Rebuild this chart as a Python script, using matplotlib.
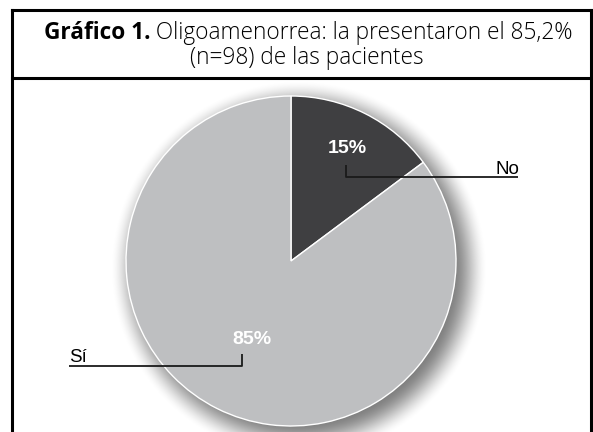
import matplotlib
matplotlib.use('Agg')
import matplotlib.pyplot as plt
import numpy as np

W, H = 593, 432

# data
labels = ['No', 'Sí']
values = [14.8, 85.2]
pct_text = ['15%', '85%']
colors = ['#3f3f41', '#bebfc1']

title_bold = 'Gráfico 1.'
title_rest = ' Oligoamenorrea: la presentaron el 85,2%'
title_line2 = '(n=98) de las pacientes'

fig = plt.figure(figsize=(W / 100, H / 100), dpi=100)
ax = fig.add_axes([0, 0, 1, 1])
ax.set_xlim(0, W)
ax.set_ylim(0, H)
ax.set_aspect('equal')
ax.axis('off')


def Y(y):
    # image row -> data y
    return H - y


cx, cy, r = 291, 261, 165

# soft drop shadow (lower right)
xx, yy = np.meshgrid(np.arange(W) + 0.5, np.arange(H) + 0.5)
d = np.hypot(xx - (cx + 8), yy - (cy + 8)) - r
t = np.clip((d + 12) / 36, 0, 1)
a = 0.5 * (1 - t * t * (3 - 2 * t))
shadow = np.zeros((H, W, 4))
shadow[..., 3] = a
ax.imshow(shadow, extent=(0, W, 0, H), origin='upper', zorder=1, interpolation='bilinear')

wedges, _ = ax.pie(values, colors=colors, startangle=90, counterclock=False,
                   center=(cx, Y(cy)), radius=r, frame=True,
                   wedgeprops=dict(edgecolor='white', linewidth=1.0))
for w in wedges:
    w.set_zorder(2)
ax.set_xlim(0, W)
ax.set_ylim(0, H)
ax.axis('off')

# percentage labels
fracs = [0.76, 0.53]
for w, txt, fr in zip(wedges, pct_text, fracs):
    ang = np.deg2rad((w.theta1 + w.theta2) / 2)
    px = cx + fr * r * np.cos(ang)
    py = Y(cy) + fr * r * np.sin(ang)
    ax.text(px, py, txt, color='white', fontsize=14, fontweight='bold',
            family='Liberation Sans', ha='center', va='center', zorder=4)

# leader lines
lk = dict(color='#1a1a1a', lw=1.3, zorder=4, solid_capstyle='butt')
ax.plot([346, 346, 518], [Y(165), Y(177), Y(177)], **lk)
ax.plot([242, 242, 69], [Y(354), Y(366), Y(366)], **lk)
ax.text(519, Y(174), labels[0], fontsize=13.5, family='Liberation Sans',
        ha='right', va='baseline', zorder=4)
ax.text(69, Y(362), labels[1], fontsize=13.5, family='Liberation Sans',
        ha='left', va='baseline', zorder=4)

# frame
bk = dict(color='black', lw=2.2, zorder=5, solid_capstyle='projecting')
ax.plot([11.5, 11.5], [Y(10), -5], **bk)
ax.plot([591, 591], [Y(10), -5], **bk)
ax.plot([11.5, 591], [Y(10), Y(10)], **bk)
ax.plot([11.5, 591], [Y(78), Y(78)], **bk)

# title, sized to fill the header box width
tfont = 'Open Sans'
fs = 14
t1 = ax.text(0, 0, title_bold, fontsize=fs, fontweight='bold', family=tfont, va='baseline')
t2 = ax.text(0, 0, title_rest, fontsize=fs, fontweight='light', family=tfont, va='baseline')
t3 = ax.text(0, 0, title_line2, fontsize=fs, fontweight='light', family=tfont,
             ha='center', va='baseline')
fig.canvas.draw()
rend = fig.canvas.get_renderer()
wt = t1.get_window_extent(rend).width + t2.get_window_extent(rend).width
fs = fs * 530 / wt
for tt in (t1, t2, t3):
    tt.set_fontsize(fs)
fig.canvas.draw()
w1 = t1.get_window_extent(rend).width
w2 = t2.get_window_extent(rend).width
x0 = 308 - (w1 + w2) / 2
t1.set_position((x0, Y(39)))
t2.set_position((x0 + w1, Y(39)))
t3.set_position((307, Y(64)))

fig.savefig('out.png', dpi=100)
